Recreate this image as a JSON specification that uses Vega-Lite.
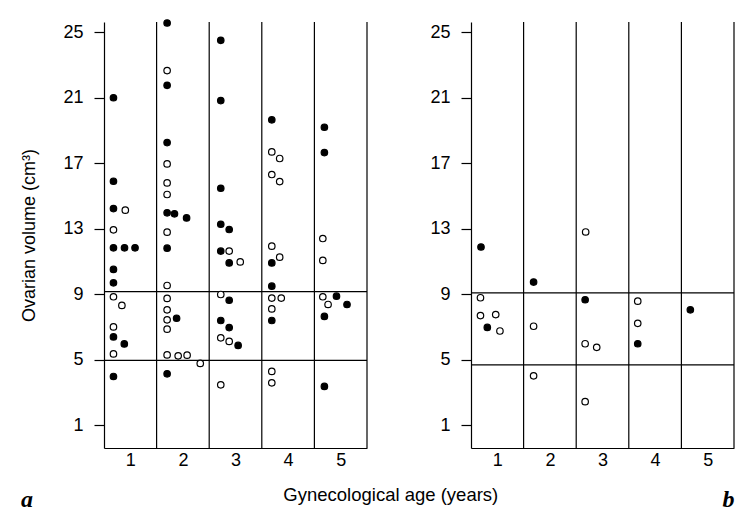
{
  "$schema": "https://vega.github.io/schema/vega-lite/v6.json",
  "background": "white",
  "padding": {"left": 20, "top": 17, "right": 12, "bottom": 8},
  "title": {"text": "Gynecological age (years)", "orient": "bottom", "anchor": "middle", "font": "Liberation Sans", "fontSize": 18.5, "fontWeight": "normal", "color": "black", "dx": 13, "dy": -30},
  "spacing": 61,
  "datasets": {
    "div": [{"x": 1.5}, {"x": 2.5}, {"x": 3.5}, {"x": 4.5}, {"x": 5.5}],
    "ref": [
      {"panel": "a", "v": 9.16}, {"panel": "a", "v": 4.95},
      {"panel": "b", "v": 9.08}, {"panel": "b", "v": 4.68}
    ],
    "pts": [
      {"panel": "a", "age": 0.68, "vol": 21.0, "t": "f"},
      {"panel": "a", "age": 0.68, "vol": 15.9, "t": "f"},
      {"panel": "a", "age": 0.68, "vol": 14.23, "t": "f"},
      {"panel": "a", "age": 0.905, "vol": 14.13, "t": "o"},
      {"panel": "a", "age": 0.68, "vol": 12.93, "t": "o"},
      {"panel": "a", "age": 0.68, "vol": 11.83, "t": "f"},
      {"panel": "a", "age": 0.89, "vol": 11.83, "t": "f"},
      {"panel": "a", "age": 1.09, "vol": 11.83, "t": "f"},
      {"panel": "a", "age": 0.68, "vol": 10.51, "t": "f"},
      {"panel": "a", "age": 0.68, "vol": 9.69, "t": "f"},
      {"panel": "a", "age": 0.68, "vol": 8.84, "t": "o"},
      {"panel": "a", "age": 0.84, "vol": 8.31, "t": "o"},
      {"panel": "a", "age": 0.68, "vol": 7.0, "t": "o"},
      {"panel": "a", "age": 0.68, "vol": 6.39, "t": "f"},
      {"panel": "a", "age": 0.886, "vol": 5.96, "t": "f"},
      {"panel": "a", "age": 0.68, "vol": 5.35, "t": "o"},
      {"panel": "a", "age": 0.68, "vol": 3.97, "t": "f"},
      {"panel": "a", "age": 1.70, "vol": 25.57, "t": "f"},
      {"panel": "a", "age": 1.70, "vol": 22.66, "t": "o"},
      {"panel": "a", "age": 1.70, "vol": 21.76, "t": "f"},
      {"panel": "a", "age": 1.70, "vol": 18.26, "t": "f"},
      {"panel": "a", "age": 1.70, "vol": 16.96, "t": "o"},
      {"panel": "a", "age": 1.70, "vol": 15.80, "t": "o"},
      {"panel": "a", "age": 1.70, "vol": 15.09, "t": "o"},
      {"panel": "a", "age": 1.70, "vol": 13.97, "t": "f"},
      {"panel": "a", "age": 1.84, "vol": 13.91, "t": "f"},
      {"panel": "a", "age": 2.07, "vol": 13.66, "t": "f"},
      {"panel": "a", "age": 1.70, "vol": 12.79, "t": "o"},
      {"panel": "a", "age": 1.70, "vol": 11.81, "t": "f"},
      {"panel": "a", "age": 1.70, "vol": 9.53, "t": "o"},
      {"panel": "a", "age": 1.70, "vol": 8.74, "t": "o"},
      {"panel": "a", "age": 1.70, "vol": 8.04, "t": "o"},
      {"panel": "a", "age": 1.70, "vol": 7.43, "t": "o"},
      {"panel": "a", "age": 1.88, "vol": 7.53, "t": "f"},
      {"panel": "a", "age": 1.70, "vol": 6.86, "t": "o"},
      {"panel": "a", "age": 1.70, "vol": 5.29, "t": "o"},
      {"panel": "a", "age": 1.91, "vol": 5.23, "t": "o"},
      {"panel": "a", "age": 2.08, "vol": 5.27, "t": "o"},
      {"panel": "a", "age": 2.33, "vol": 4.77, "t": "o"},
      {"panel": "a", "age": 1.70, "vol": 4.13, "t": "f"},
      {"panel": "a", "age": 2.72, "vol": 24.51, "t": "f"},
      {"panel": "a", "age": 2.72, "vol": 20.83, "t": "f"},
      {"panel": "a", "age": 2.72, "vol": 15.47, "t": "f"},
      {"panel": "a", "age": 2.72, "vol": 13.27, "t": "f"},
      {"panel": "a", "age": 2.88, "vol": 12.95, "t": "f"},
      {"panel": "a", "age": 2.72, "vol": 11.63, "t": "f"},
      {"panel": "a", "age": 2.88, "vol": 11.63, "t": "o"},
      {"panel": "a", "age": 2.88, "vol": 10.91, "t": "f"},
      {"panel": "a", "age": 3.09, "vol": 10.97, "t": "o"},
      {"panel": "a", "age": 2.72, "vol": 8.98, "t": "o"},
      {"panel": "a", "age": 2.88, "vol": 8.63, "t": "f"},
      {"panel": "a", "age": 2.72, "vol": 7.39, "t": "f"},
      {"panel": "a", "age": 2.88, "vol": 6.96, "t": "f"},
      {"panel": "a", "age": 2.72, "vol": 6.33, "t": "o"},
      {"panel": "a", "age": 2.88, "vol": 6.11, "t": "o"},
      {"panel": "a", "age": 3.05, "vol": 5.87, "t": "f"},
      {"panel": "a", "age": 2.72, "vol": 3.46, "t": "o"},
      {"panel": "a", "age": 3.69, "vol": 19.65, "t": "f"},
      {"panel": "a", "age": 3.69, "vol": 17.69, "t": "o"},
      {"panel": "a", "age": 3.84, "vol": 17.29, "t": "o"},
      {"panel": "a", "age": 3.69, "vol": 16.31, "t": "o"},
      {"panel": "a", "age": 3.84, "vol": 15.88, "t": "o"},
      {"panel": "a", "age": 3.69, "vol": 11.93, "t": "o"},
      {"panel": "a", "age": 3.84, "vol": 11.26, "t": "o"},
      {"panel": "a", "age": 3.69, "vol": 10.91, "t": "f"},
      {"panel": "a", "age": 3.69, "vol": 9.49, "t": "f"},
      {"panel": "a", "age": 3.69, "vol": 8.76, "t": "o"},
      {"panel": "a", "age": 3.87, "vol": 8.76, "t": "o"},
      {"panel": "a", "age": 3.69, "vol": 8.10, "t": "o"},
      {"panel": "a", "age": 3.69, "vol": 7.39, "t": "f"},
      {"panel": "a", "age": 3.69, "vol": 4.28, "t": "o"},
      {"panel": "a", "age": 3.69, "vol": 3.58, "t": "o"},
      {"panel": "a", "age": 4.69, "vol": 19.2, "t": "f"},
      {"panel": "a", "age": 4.69, "vol": 17.65, "t": "f"},
      {"panel": "a", "age": 4.66, "vol": 12.40, "t": "o"},
      {"panel": "a", "age": 4.66, "vol": 11.06, "t": "o"},
      {"panel": "a", "age": 4.66, "vol": 8.84, "t": "o"},
      {"panel": "a", "age": 4.92, "vol": 8.88, "t": "f"},
      {"panel": "a", "age": 4.76, "vol": 8.37, "t": "o"},
      {"panel": "a", "age": 5.12, "vol": 8.37, "t": "f"},
      {"panel": "a", "age": 4.69, "vol": 7.64, "t": "f"},
      {"panel": "a", "age": 4.69, "vol": 3.36, "t": "f"},
      {"panel": "b", "age": 0.69, "vol": 11.88, "t": "f"},
      {"panel": "b", "age": 1.69, "vol": 9.74, "t": "f"},
      {"panel": "b", "age": 0.68, "vol": 8.78, "t": "o"},
      {"panel": "b", "age": 0.68, "vol": 7.69, "t": "o"},
      {"panel": "b", "age": 0.97, "vol": 7.75, "t": "o"},
      {"panel": "b", "age": 0.81, "vol": 6.97, "t": "f"},
      {"panel": "b", "age": 1.05, "vol": 6.75, "t": "o"},
      {"panel": "b", "age": 1.69, "vol": 7.04, "t": "o"},
      {"panel": "b", "age": 1.69, "vol": 4.01, "t": "o"},
      {"panel": "b", "age": 2.68, "vol": 12.8, "t": "o"},
      {"panel": "b", "age": 2.67, "vol": 8.66, "t": "f"},
      {"panel": "b", "age": 2.67, "vol": 5.97, "t": "o"},
      {"panel": "b", "age": 2.89, "vol": 5.75, "t": "o"},
      {"panel": "b", "age": 2.67, "vol": 2.43, "t": "o"},
      {"panel": "b", "age": 3.67, "vol": 8.57, "t": "o"},
      {"panel": "b", "age": 3.67, "vol": 7.22, "t": "o"},
      {"panel": "b", "age": 3.67, "vol": 5.97, "t": "f"},
      {"panel": "b", "age": 4.67, "vol": 8.04, "t": "f"}
    ]
  },
  "hconcat": [
    {
      "width": 263,
      "height": 426,
      "title": {"text": "a", "orient": "bottom", "anchor": "start", "frame": "bounds", "font": "Liberation Serif", "fontStyle": "italic", "fontWeight": "bold", "fontSize": 24, "color": "black", "offset": 19},
      "layer": [
        {
          "data": {"name": "div"},
          "mark": {"type": "rule", "color": "black", "strokeWidth": 1.2},
          "encoding": {
            "x": {"field": "x", "type": "quantitative", "scale": {"domain": [0.5, 5.5], "nice": false, "zero": false}, "axis": {"values": [1, 2, 3, 4, 5], "ticks": false, "labelAngle": 0, "title": null, "labelPadding": 3}}
          }
        },
        {
          "data": {"name": "ref"},
          "transform": [{"filter": "datum.panel === 'a'"}],
          "mark": {"type": "rule", "color": "black", "strokeWidth": 1.2},
          "encoding": {
            "y": {"field": "v", "type": "quantitative", "scale": {"domain": [-0.4, 25.63], "nice": false, "zero": false}, "axis": {"values": [1, 3, 5, 7, 9, 11, 13, 15, 17, 19, 21, 23, 25], "labelExpr": "(datum.value - 1) % 4 === 0 ? datum.label : ''", "tickSize": 10, "labelPadding": 11, "title": "Ovarian volume (cm³)", "titlePadding": 24}}
          }
        },
        {
          "data": {"name": "pts"},
          "transform": [{"filter": "datum.panel === 'a'"}],
          "mark": {"type": "point", "shape": "circle", "filled": true, "stroke": "black", "strokeWidth": 1.2, "size": 42, "opacity": 1},
          "encoding": {
            "x": {"field": "age", "type": "quantitative"},
            "y": {"field": "vol", "type": "quantitative"},
            "fill": {"field": "t", "type": "nominal", "scale": {"domain": ["f", "o"], "range": ["black", "white"]}, "legend": null}
          }
        }
      ]
    },
    {
      "width": 263,
      "height": 426,
      "title": {"text": "b", "orient": "bottom", "anchor": "end", "frame": "bounds", "font": "Liberation Serif", "fontStyle": "italic", "fontWeight": "bold", "fontSize": 24, "color": "black", "offset": 19},
      "layer": [
        {
          "data": {"name": "div"},
          "mark": {"type": "rule", "color": "black", "strokeWidth": 1.2},
          "encoding": {
            "x": {"field": "x", "type": "quantitative", "scale": {"domain": [0.5, 5.5], "nice": false, "zero": false}, "axis": {"values": [1, 2, 3, 4, 5], "ticks": false, "labelAngle": 0, "title": null, "labelPadding": 3}}
          }
        },
        {
          "data": {"name": "ref"},
          "transform": [{"filter": "datum.panel === 'b'"}],
          "mark": {"type": "rule", "color": "black", "strokeWidth": 1.2},
          "encoding": {
            "y": {"field": "v", "type": "quantitative", "scale": {"domain": [-0.4, 25.63], "nice": false, "zero": false}, "axis": {"values": [1, 3, 5, 7, 9, 11, 13, 15, 17, 19, 21, 23, 25], "labelExpr": "(datum.value - 1) % 4 === 0 ? datum.label : ''", "tickSize": 10, "labelPadding": 11, "title": null}}
          }
        },
        {
          "data": {"name": "pts"},
          "transform": [{"filter": "datum.panel === 'b'"}],
          "mark": {"type": "point", "shape": "circle", "filled": true, "stroke": "black", "strokeWidth": 1.2, "size": 42, "opacity": 1},
          "encoding": {
            "x": {"field": "age", "type": "quantitative"},
            "y": {"field": "vol", "type": "quantitative"},
            "fill": {"field": "t", "type": "nominal", "scale": {"domain": ["f", "o"], "range": ["black", "white"]}, "legend": null}
          }
        }
      ]
    }
  ],
  "config": {
    "view": {"stroke": null},
    "axis": {"domainColor": "black", "tickColor": "black", "labelColor": "black", "titleColor": "black", "labelFont": "Liberation Sans", "titleFont": "Liberation Sans", "labelFontSize": 18, "titleFontSize": 18, "titleFontWeight": "normal", "grid": false, "domainWidth": 1.2, "tickWidth": 1.2}
  }
}
